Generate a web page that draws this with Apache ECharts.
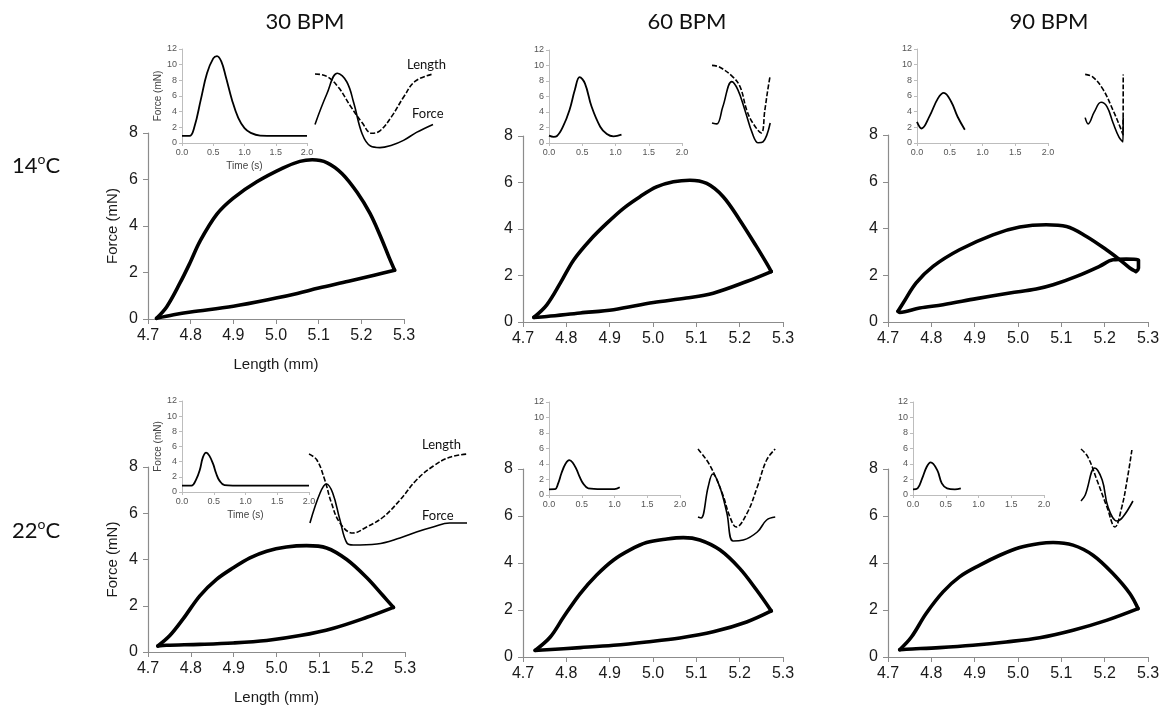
<!DOCTYPE html>
<html><head><meta charset="utf-8">
<script src="https://cdn.jsdelivr.net/npm/echarts@6/dist/echarts.min.js"></script>
<style>html,body{margin:0;padding:0;background:#fff}#c{width:1163px;height:706px}</style>
</head><body><div id="c"></div>
<script>
const columnTitles = ['30 BPM', '60 BPM', '90 BPM'];
const rowTitles = ['14', '22'];
const traceLabels = ['Length', 'Force'];

// Main work loops: [length (mm), force (mN)]; "up" = shortening/rising branch, "down" = return branch
const up_14_30 = [[4.72,0.03],[4.744,0.53],[4.775,1.55],[4.798,2.4],[4.822,3.35],[4.861,4.5],[4.9,5.2],[4.955,5.9],[5.017,6.5],[5.056,6.78],[5.085,6.85],[5.12,6.72],[5.155,6.25],[5.19,5.45],[5.22,4.55],[5.245,3.55],[5.265,2.65],[5.278,2.1]];
const dn_14_30 = [[5.278,2.1],[5.23,1.88],[5.17,1.62],[5.1,1.33],[5.05,1.1],[5.0,0.9],[4.9,0.55],[4.8,0.3],[4.76,0.18],[4.72,0.03]];
const up_14_60 = [[4.725,0.2],[4.755,0.74],[4.786,1.67],[4.817,2.67],[4.855,3.53],[4.893,4.24],[4.932,4.89],[4.97,5.39],[5.008,5.81],[5.047,6.03],[5.085,6.1],[5.124,5.96],[5.162,5.39],[5.2,4.39],[5.239,3.24],[5.262,2.53],[5.273,2.17]];
const dn_14_60 = [[5.273,2.17],[5.216,1.74],[5.139,1.24],[5.077,1.03],[5.001,0.84],[4.909,0.53],[4.832,0.39],[4.755,0.24],[4.725,0.2]];
const up_14_90 = [[4.723,0.46],[4.735,0.81],[4.765,1.67],[4.804,2.38],[4.865,3.09],[4.942,3.73],[5.004,4.06],[5.065,4.16],[5.112,4.09],[5.158,3.66],[5.204,3.09],[5.235,2.66],[5.258,2.31],[5.272,2.16]];
const dn_14_90 = [[5.272,2.16],[5.278,2.3],[5.278,2.65],[5.25,2.69],[5.219,2.66],[5.188,2.38],[5.135,1.95],[5.081,1.59],[5.042,1.41],[4.981,1.24],[4.904,1.0],[4.827,0.74],[4.773,0.6],[4.727,0.41],[4.723,0.46]];
const up_22_30 = [[4.723,0.26],[4.751,0.71],[4.782,1.43],[4.821,2.43],[4.86,3.14],[4.899,3.64],[4.938,4.07],[4.977,4.36],[5.023,4.54],[5.07,4.6],[5.117,4.5],[5.164,4.0],[5.211,3.21],[5.249,2.43],[5.273,1.93]];
const dn_22_30 = [[5.273,1.93],[5.211,1.5],[5.133,1.03],[5.055,0.71],[4.977,0.5],[4.899,0.39],[4.821,0.33],[4.743,0.29],[4.723,0.26]];
const up_22_60 = [[4.728,0.28],[4.763,0.85],[4.794,1.71],[4.832,2.7],[4.87,3.49],[4.909,4.13],[4.947,4.56],[4.985,4.87],[5.032,5.02],[5.07,5.08],[5.108,4.98],[5.154,4.56],[5.2,3.77],[5.239,2.85],[5.273,1.96]];
const dn_22_60 = [[5.273,1.96],[5.216,1.49],[5.139,1.07],[5.062,0.81],[4.985,0.64],[4.909,0.5],[4.832,0.4],[4.755,0.31],[4.728,0.28]];
const up_22_90 = [[4.727,0.31],[4.754,0.85],[4.788,1.85],[4.827,2.77],[4.865,3.41],[4.912,3.91],[4.958,4.33],[5.004,4.66],[5.05,4.83],[5.081,4.87],[5.127,4.76],[5.173,4.33],[5.219,3.55],[5.258,2.7],[5.277,2.06]];
const dn_22_90 = [[5.277,2.06],[5.204,1.56],[5.127,1.14],[5.05,0.82],[4.973,0.64],[4.896,0.5],[4.819,0.4],[4.742,0.33],[4.727,0.31]];

// Inset force-time records: [time (s), force (mN)]
const inset_14_30 = [[0,0.9],[0.12,0.9],[0.2,2.1],[0.3,5.5],[0.4,8.9],[0.5,10.8],[0.56,11.1],[0.63,10.4],[0.7,8.5],[0.8,5.5],[0.9,3.2],[1.0,1.9],[1.1,1.3],[1.25,0.95],[1.5,0.9],[2.0,0.9]];
const inset_14_60 = [[0,0.95],[0.07,0.8],[0.12,0.9],[0.21,2.1],[0.31,4.3],[0.39,6.9],[0.46,8.5],[0.54,7.7],[0.64,4.7],[0.77,2.1],[0.87,1.15],[0.97,0.85],[1.09,1.07]];
const inset_14_90 = [[0,2.7],[0.07,1.85],[0.19,3.4],[0.32,5.7],[0.41,6.4],[0.52,5.3],[0.62,3.35],[0.73,1.7]];
const inset_22_30 = [[0,0.84],[0.15,0.84],[0.22,1.6],[0.28,2.9],[0.33,4.6],[0.38,5.2],[0.43,4.8],[0.49,3.7],[0.54,2.4],[0.59,1.5],[0.67,0.9],[0.8,0.84],[2.0,0.84]];
const inset_22_60 = [[0,0.73],[0.09,0.75],[0.14,1.5],[0.19,2.8],[0.25,4.0],[0.31,4.5],[0.36,4.2],[0.42,3.3],[0.47,2.3],[0.52,1.5],[0.6,0.86],[0.8,0.77],[1.0,0.77],[1.08,1.0]];
const inset_22_90 = [[0,0.73],[0.07,0.86],[0.14,2.15],[0.21,3.65],[0.27,4.2],[0.37,3.2],[0.44,1.5],[0.52,0.86],[0.64,0.73],[0.73,0.86]];

// Length (dashed) and force (solid) traces over one cycle, relative units 0-100
const len_14_30 = [[0,95],[10,92],[20,78],[30,55],[40,34],[48,21],[55,24],[65,42],[75,66],[85,86],[100,95]];
const frc_14_30 = [[0,32],[10,70],[19,96],[27,85],[33,58],[40,20],[47,5],[55,3],[65,6],[75,12],[86,22],[100,32]];
const len_14_60 = [[0,94],[13,92],[35,81],[47,70],[58,44],[68,30],[82,19],[88,44],[93,67],[97,83]];
const frc_14_60 = [[0,30],[8,29],[18,48],[33,76],[43,67],[55,44],[67,19],[77,8],[85,9],[97,30]];
const len_14_90 = [[5,84],[23,81],[47,67],[70,44],[86,26],[93,17],[93.5,84]];
const frc_14_90 = [[5,36],[12,29],[26,42],[42,53],[56,48],[70,30],[84,14],[93,9],[93.5,36]];
const len_22_30 = [[0,96],[5,90],[10,70],[14,48],[19.6,27],[27.8,17],[36.5,23],[47,33],[57.6,50],[68,70],[78.7,84],[89,92.7],[100,96]];
const frc_22_30 = [[0.6,27],[7,57],[11,66],[15,57],[19.6,30],[24,7],[28,5],[43,6],[57.6,12],[68,18],[78.5,23],[89,27],[100,27]];
const len_22_60 = [[0,96],[15,80],[31,52],[41,28],[49,18],[63,32],[76,58],[88,85],[99,96]];
const frc_22_60 = [[0,28],[4,27],[13,58],[19,71],[28,58],[37,32],[45,4],[58,5],[76,13],[88,25],[99,28]];
const len_22_90 = [[0,96],[13,88],[30,65],[49,38],[64,18],[77,38],[87,65],[96,95]];
const frc_22_90 = [[0,44],[8,50],[26,77],[40,65],[51,38],[68,24],[79,28],[98,44]];

const panels = [
  {up: up_14_30, dn: dn_14_30, inset: inset_14_30, len: len_14_30, frc: frc_14_30},
  {up: up_14_60, dn: dn_14_60, inset: inset_14_60, len: len_14_60, frc: frc_14_60},
  {up: up_14_90, dn: dn_14_90, inset: inset_14_90, len: len_14_90, frc: frc_14_90},
  {up: up_22_30, dn: dn_22_30, inset: inset_22_30, len: len_22_30, frc: frc_22_30},
  {up: up_22_60, dn: dn_22_60, inset: inset_22_60, len: len_22_60, frc: frc_22_60},
  {up: up_22_90, dn: dn_22_90, inset: inset_22_90, len: len_22_90, frc: frc_22_90}
];

// Layout (left, top, width, height)
const mainBox = [[148,133,256,186],[523,136,260,186],[888,135,260,187],[148,467,257,186],[523,469,260,188],[888,469,260,188]];
const insetBox = [[182,49,125,94],[549,50,133,93],[917,49,131,94],[182,401,127,91],[549,402,131,93],[913,402,131,93]];
const traceBox = [[315,70,118,80],[712,60,60,90],[1083,60,43,90],[309,450,158,100],[698,445,78,100],[1081,445,53,100]];

const grid = [], xAxis = [], yAxis = [], series = [];
const tickFont = 'Liberation Sans, Arial, sans-serif';
panels.forEach((p, i) => {
  const first = (i % 3 === 0);
  // main
  let g = grid.length;
  grid.push({left: mainBox[i][0], top: mainBox[i][1], width: mainBox[i][2], height: mainBox[i][3], containLabel: false});
  xAxis.push({gridIndex: g, type: 'value', min: 4.7, max: 5.3, interval: 0.1,
    axisLine: {lineStyle: {color: '#8c8c8c', width: 1.2}}, axisTick: {show: true, length: 5, lineStyle: {color: '#8c8c8c'}},
    splitLine: {show: false},
    axisLabel: {formatter: v => v.toFixed(1), color: '#1a1a1a', fontSize: 16, fontFamily: tickFont, margin: 9},
    name: first ? 'Length (mm)' : '', nameLocation: 'middle', nameGap: 38,
    nameTextStyle: {fontSize: 15, color: '#1a1a1a', fontFamily: tickFont}});
  yAxis.push({gridIndex: g, type: 'value', min: 0, max: 8, interval: 2,
    axisLine: {show: true, lineStyle: {color: '#8c8c8c', width: 1.2}}, axisTick: {show: true, length: 5, lineStyle: {color: '#8c8c8c'}},
    splitLine: {show: false},
    axisLabel: {color: '#1a1a1a', fontSize: 16, fontFamily: tickFont, margin: 10},
    name: first ? 'Force (mN)' : '', nameLocation: 'middle', nameGap: 28,
    nameTextStyle: {fontSize: 15, color: '#1a1a1a', fontFamily: tickFont}});
  [p.up, p.dn].forEach(d => series.push({type: 'line', xAxisIndex: g, yAxisIndex: g, data: d, smooth: 0.35, showSymbol: false,
    lineStyle: {color: '#000', width: 3.6, cap: 'round', join: 'round'}, z: 3}));
  // inset
  g = grid.length;
  grid.push({left: insetBox[i][0], top: insetBox[i][1], width: insetBox[i][2], height: insetBox[i][3]});
  xAxis.push({gridIndex: g, type: 'value', min: 0, max: 2, interval: 0.5,
    axisLine: {lineStyle: {color: '#bdbdbd'}}, axisTick: {show: true, length: 3, lineStyle: {color: '#bdbdbd'}},
    splitLine: {show: false},
    axisLabel: {formatter: v => v.toFixed(1), color: '#555', fontSize: 9, fontFamily: tickFont, margin: 5},
    name: first ? 'Time (s)' : '', nameLocation: 'middle', nameGap: 18,
    nameTextStyle: {fontSize: 10, color: '#444', fontFamily: tickFont}});
  yAxis.push({gridIndex: g, type: 'value', min: 0, max: 12, interval: 2,
    axisLine: {show: true, lineStyle: {color: '#bdbdbd'}}, axisTick: {show: true, length: 3, lineStyle: {color: '#bdbdbd'}},
    splitLine: {show: false},
    axisLabel: {color: '#555', fontSize: 9, fontFamily: tickFont, margin: 5},
    name: first ? 'Force (mN)' : '', nameLocation: 'middle', nameGap: 17,
    nameTextStyle: {fontSize: 10, color: '#444', fontFamily: tickFont}});
  series.push({type: 'line', xAxisIndex: g, yAxisIndex: g, data: p.inset, smooth: 0.4, showSymbol: false,
    lineStyle: {color: '#000', width: 1.8}});
  // trace
  g = grid.length;
  grid.push({left: traceBox[i][0], top: traceBox[i][1], width: traceBox[i][2], height: traceBox[i][3]});
  xAxis.push({gridIndex: g, type: 'value', min: 0, max: 100, show: false});
  yAxis.push({gridIndex: g, type: 'value', min: 0, max: 100, show: false});
  series.push({type: 'line', xAxisIndex: g, yAxisIndex: g, data: p.len, smooth: 0.4, showSymbol: false,
    lineStyle: {color: '#000', width: 1.6, type: [5, 2]}});
  series.push({type: 'line', xAxisIndex: g, yAxisIndex: g, data: p.frc, smooth: 0.4, showSymbol: false,
    lineStyle: {color: '#000', width: 1.6}});
});

const titleFont = 'Lato, Carlito, Calibri, sans-serif';
const graphic = [];
const colX = [305, 687, 1049];
colX.forEach((x, k) => graphic.push({type: 'text', x: x, y: 22,
  style: {text: columnTitles[k], font: '22px ' + titleFont, fill: '#111', align: 'center', verticalAlign: 'middle'}}));
const rowY = [152, 517];
rowY.forEach((y, k) => graphic.push({type: 'text', left: 12, top: y,
  style: {text: '{n|' + rowTitles[k] + '}{s|o}{n|C}', rich: {n: {font: '22px ' + titleFont, fill: '#111', verticalAlign: 'bottom'}, s: {font: '14px ' + titleFont, fill: '#111', padding: [0, 0, 11, 0], verticalAlign: 'bottom'}}}}));
const labelPos = [[407, 58], [412, 107], [422, 438], [422, 509]];
labelPos.forEach((pos, k) => graphic.push({type: 'text', left: pos[0], top: pos[1],
  style: {text: traceLabels[k % 2], font: '13px ' + titleFont, fill: '#111'}}));

const chart = echarts.init(document.getElementById('c'), null, {renderer: 'canvas'});
chart.setOption({animation: false, backgroundColor: '#fff', grid, xAxis, yAxis, series, graphic});
</script></body></html>
